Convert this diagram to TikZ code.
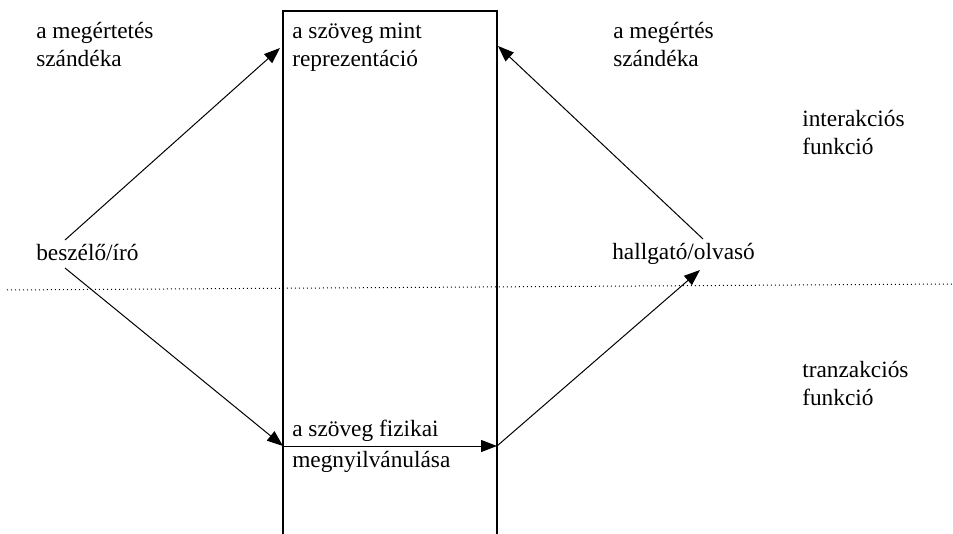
\documentclass[tikz,border=0pt]{standalone}
\usepackage{fontspec}
\setmainfont{Liberation Serif}
\usetikzlibrary{arrows.meta}
\begin{document}
\begin{tikzpicture}[x=0.75pt,y=-0.75pt]
			% Styles
			\tikzstyle{fleche}=[->,>={Triangle[length=12pt,width=9pt]},line width=0.75pt]
			\tikzstyle{cadre}=[line width=0.9pt]
			\tikzstyle{frontiere}=[line width=0.75pt,dash pattern=on 0.75pt off 2.25pt]
			\tikzstyle{texte}=[inner sep=0pt,anchor=base west,align=left,font=\fontsize{17.5}{21}\selectfont]
			% Dimensions
			\def\Gauche{36}
			\def\BoiteG{283}
			\def\BoiteD{497}
			\def\Droite{612}
			\def\Fonction{802}
			\useasboundingbox (0,0) rectangle (953,534);
			% Noeuds (ancre : ligne de base de la derniere ligne)
			\node[texte] (intention1) at (\Gauche,67) {a megértetés\\szándéka};
			\node[texte] (representation) at (\BoiteG+9,67) {a szöveg mint\\reprezentáció};
			\node[texte] (intention2) at (\Droite+1,67) {a megértés\\szándéka};
			\node[texte] (interaction) at (\Fonction,155) {interakciós\\funkció};
			\node[texte] (locuteur) at (\Gauche,261) {beszélő/író};
			\node[texte] (auditeur) at (\Droite,260) {hallgató/olvasó};
			\node[texte] (transaction) at (\Fonction,406) {tranzakciós\\funkció};
			\node[texte] (physique1) at (\BoiteG+9,436) {a szöveg fizikai};
			\node[texte] (physique2) at (\BoiteG+9,467) {megnyilvánulása};
			% Points
			\coordinate (L1) at (65,240);
			\coordinate (L2) at (65,268);
			\coordinate (A1) at (703,239);
			\coordinate (A2) at (700,270);
			\coordinate (HG) at (\BoiteG-3,48);
			\coordinate (HD) at (\BoiteD+1,46);
			\coordinate (BG) at (\BoiteG,446);
			\coordinate (BD) at (\BoiteD,446);
			\coordinate (F1) at (7,290);
			\coordinate (F2) at (953,284);
			% Boite
			\draw[cadre] (\BoiteG,534) -- (\BoiteG,11) -- (\BoiteD,11) -- (\BoiteD,534);
			\draw[frontiere] (F1) -- (F2);
			% Arcs
			\draw[fleche] (L1)--(HG);
			\draw[fleche] (L2)--(BG);
			\draw[fleche] (BG)--(BD);
			\draw[fleche] (BD)--(A2);
			\draw[fleche] (A1)--(HD);
\end{tikzpicture}
\end{document}
